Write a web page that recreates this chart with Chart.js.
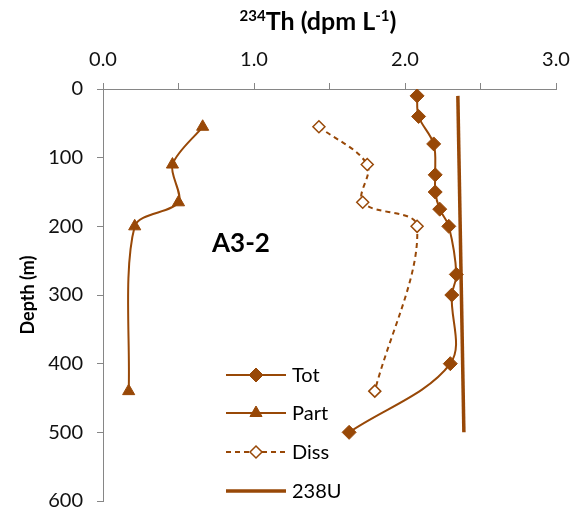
<!DOCTYPE html>
<html>
<head>
<meta charset="utf-8">
<script src="https://cdn.jsdelivr.net/npm/chart.js@4/dist/chart.umd.min.js"></script>
<style>
  html, body { margin: 0; padding: 0; background: #fff; }
  #wrap { width: 585px; height: 512px; }
</style>
</head>
<body>
<div id="wrap"><canvas id="thChart" width="585" height="512"></canvas></div>
<script>
// 234Th profile, station A3-2
const depthTot = [10, 40, 80, 125, 150, 175, 200, 270, 300, 400, 500];
const thTot = [2.08, 2.09, 2.19, 2.20, 2.20, 2.23, 2.29, 2.34, 2.31, 2.30, 1.63];

const depthPart = [55, 110, 165, 200, 440];
const thPart = [0.66, 0.46, 0.50, 0.21, 0.17];

const depthDiss = [55, 110, 165, 200, 440];
const thDiss = [1.43, 1.75, 1.72, 2.08, 1.80];

const depthU = [10, 500];
const u238 = [2.35, 2.39];

const seriesNames = ["Tot", "Part", "Diss", "238U"];
const stationLabel = "A3-2";
const yTitle = "Depth (m)";

const brown = "#984807";
const axisGrey = "#868686";

function pts(xs, ys) {
    return xs.map((v, i) => ({ x: v, y: ys[i] }));
}

// title with superscripts, the station tag and the in-plot legend
const extras = {
    id: 'extras',
    afterDraw(chart) {
        const ctx = chart.ctx;
        ctx.save();
        ctx.fillStyle = '#000';
        ctx.textBaseline = 'alphabetic';

        // x axis title: 234Th (dpm L-1)
        const parts = [
            { t: '234', sup: true },
            { t: 'Th (dpm L', sup: false },
            { t: '-1', sup: true },
            { t: ')', sup: false }
        ];
        const big = 'bold 25px Lato', small = 'bold 15px Lato';
        let total = 0;
        parts.forEach(p => {
            ctx.font = p.sup ? small : big;
            p.w = ctx.measureText(p.t).width;
            total += p.w;
        });
        let x = 318 - total / 2;
        const base = 30;
        parts.forEach(p => {
            ctx.font = p.sup ? small : big;
            ctx.fillText(p.t, x, p.sup ? base - 9 : base);
            x += p.w;
        });

        // station tag
        ctx.font = 'bold 26px Lato';
        ctx.fillText(stationLabel, 212, 252);

        // legend
        const rows = [375, 413, 452, 491];
        chart.data.datasets.forEach((ds, i) => {
            const y = rows[i];
            ctx.strokeStyle = ds.borderColor;
            ctx.lineWidth = ds.borderWidth;
            ctx.setLineDash(ds.borderDash || []);
            ctx.beginPath();
            ctx.moveTo(226, y);
            ctx.lineTo(286, y);
            ctx.stroke();
            ctx.setLineDash([]);
            if (ds.pointRadius > 0) {
                ctx.fillStyle = ds.pointBackgroundColor;
                ctx.strokeStyle = ds.pointBorderColor;
                ctx.lineWidth = ds.pointBorderWidth;
                Chart.helpers.drawPoint(ctx, {
                    pointStyle: ds.pointStyle,
                    radius: ds.pointRadius,
                    rotation: 0,
                    borderWidth: ds.pointBorderWidth
                }, 256, y);
            }
            ctx.fillStyle = '#000';
            ctx.font = '20px Lato';
            ctx.textBaseline = 'middle';
            ctx.fillText(ds.label, 292, y + 1);
        });
        ctx.restore();
    }
};

const ctx = document.getElementById('thChart');

new Chart(ctx, {
    type: 'scatter',
    data: {
        datasets: [
            {
                label: seriesNames[0],
                data: pts(thTot, depthTot),
                showLine: true,
                tension: 0.35,
                borderColor: brown,
                borderWidth: 2,
                pointStyle: 'rectRot',
                pointRadius: 7,
                pointBackgroundColor: brown,
                pointBorderColor: brown,
                pointBorderWidth: 1
            },
            {
                label: seriesNames[1],
                data: pts(thPart, depthPart),
                showLine: true,
                tension: 0.3,
                borderColor: brown,
                borderWidth: 2,
                pointStyle: 'triangle',
                pointRadius: 7,
                pointBackgroundColor: brown,
                pointBorderColor: brown,
                pointBorderWidth: 1
            },
            {
                label: seriesNames[2],
                data: pts(thDiss, depthDiss),
                showLine: true,
                tension: 0.35,
                borderColor: brown,
                borderWidth: 2,
                borderDash: [5, 4],
                pointStyle: 'rectRot',
                pointRadius: 6,
                pointBackgroundColor: '#fff',
                pointBorderColor: brown,
                pointBorderWidth: 1.5
            },
            {
                label: seriesNames[3],
                data: pts(u238, depthU),
                showLine: true,
                borderColor: brown,
                borderWidth: 3.5,
                pointRadius: 0
            }
        ]
    },
    options: {
        responsive: false,
        animation: false,
        layout: {
            padding: { left: 0, top: 0, right: 29, bottom: 0 }
        },
        plugins: {
            legend: { display: false },
            tooltip: { enabled: false }
        },
        scales: {
            x: {
                type: 'linear',
                position: 'top',
                min: 0,
                max: 3,
                afterFit: s => { s.height = 89; },
                ticks: {
                    stepSize: 0.5,
                    padding: 11,
                    color: '#111',
                    font: { family: 'Lato', size: 20 },
                    callback: v => (Math.abs(v % 1) < 1e-9 ? v.toFixed(1) : '')
                },
                grid: {
                    drawOnChartArea: false,
                    drawTicks: true,
                    tickLength: 6,
                    color: axisGrey
                },
                border: { color: axisGrey }
            },
            y: {
                type: 'linear',
                reverse: true,
                min: 0,
                max: 600,
                afterFit: s => {
                    s.width = 103;
                    s.paddingTop = 0;
                    s.paddingBottom = 11;
                },
                title: {
                    display: true,
                    text: yTitle,
                    color: '#000',
                    font: { family: 'Lato', size: 18, weight: 'bold' },
                    padding: { top: 17, bottom: 0 }
                },
                ticks: {
                    stepSize: 100,
                    padding: 14,
                    color: '#111',
                    font: { family: 'Lato', size: 20 }
                },
                grid: {
                    drawOnChartArea: false,
                    drawTicks: true,
                    tickLength: 6,
                    color: axisGrey
                },
                border: { color: axisGrey }
            }
        }
    },
    plugins: [extras]
});
</script>
</body>
</html>
